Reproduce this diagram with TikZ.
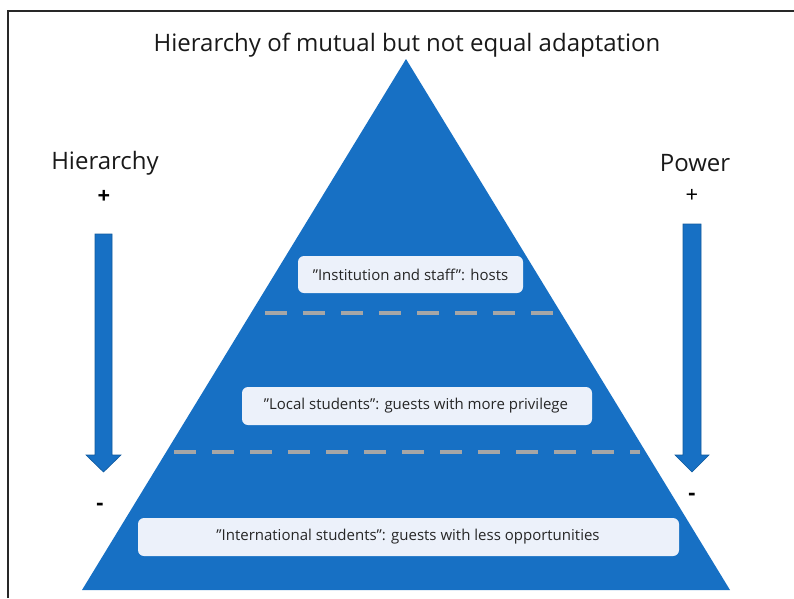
\documentclass[tikz,border=0pt]{standalone}
\usepackage{fontspec}
\setmainfont{Open Sans}
\definecolor{pyrblue}{RGB}{23,112,196}
\definecolor{boxfill}{RGB}{236,241,250}
\definecolor{dashgray}{RGB}{166,166,166}
\definecolor{framegray}{RGB}{40,40,40}
\begin{document}
\begin{tikzpicture}[x=1pt,y=-1pt,
  layertext/.style={font=\fontsize{15}{18}\selectfont,text=black!85},
  sep/.style={draw=dashgray,line width=4.5pt,dash pattern=on 22pt off 16pt},
  bigarrow/.style={fill=pyrblue,draw=pyrblue!80!black,line width=0.6pt},
  lbl/.style={font=\fontsize{24}{28}\selectfont,text=black!90},
  sign/.style={font=\fontsize{22}{26}\selectfont\bfseries,text=black}]
\useasboundingbox (0,0) rectangle (794,598);
% frame
\draw[framegray,line width=2pt] (7.5,598) -- (7.5,10.5) -- (794,10.5);
% title
\node[lbl] (title) at (407,45) {Hierarchy of mutual but not equal adaptation};
% pyramid
\fill[pyrblue] (406,59) coordinate (apex) -- (730,590) coordinate (br) -- (82,590) coordinate (bl) -- cycle;
% separators
\coordinate (s1a) at (265,313); \coordinate (s1b) at (556,313);
\coordinate (s2a) at (174,452); \coordinate (s2b) at (640,452);
\draw[sep] (s1a) -- (s1b);
\draw[sep] (s2a) -- (s2b);
% layer boxes
\fill[boxfill,rounded corners=6pt] (298,256) rectangle (523,293);
\node[layertext] (t1) at (410.5,274.5) {”Institution and staff”: hosts};
\fill[boxfill,rounded corners=6pt] (242,387) rectangle (592,425);
\node[layertext] (t2) at (416,406) {”Local students”: guests with more privilege};
\fill[boxfill,rounded corners=6pt] (138,518) rectangle (679,556);
\node[layertext] (t3) at (408,537) {”International students”: guests with less opportunities};
% left arrow
\node[lbl] (hier) at (105,163) {Hierarchy};
\node[sign] (hplus) at (104,197) {+};
\node[sign] (hminus) at (100,507) {-};
\draw[bigarrow] (95,234) -- (112,234) -- (112,455) -- (121,455) -- (103.5,472) -- (86,455) -- (95,455) -- cycle;
% right arrow
\node[lbl] (pow) at (695,163) {Power};
\node[font=\fontsize{22}{26}\selectfont,text=black] (pplus) at (692,196) {+};
\node[sign] (pminus) at (692,497) {-};
\draw[bigarrow] (683,224) -- (701,224) -- (701,455) -- (709,455) -- (692,472) -- (675,455) -- (683,455) -- cycle;
\end{tikzpicture}
\end{document}
